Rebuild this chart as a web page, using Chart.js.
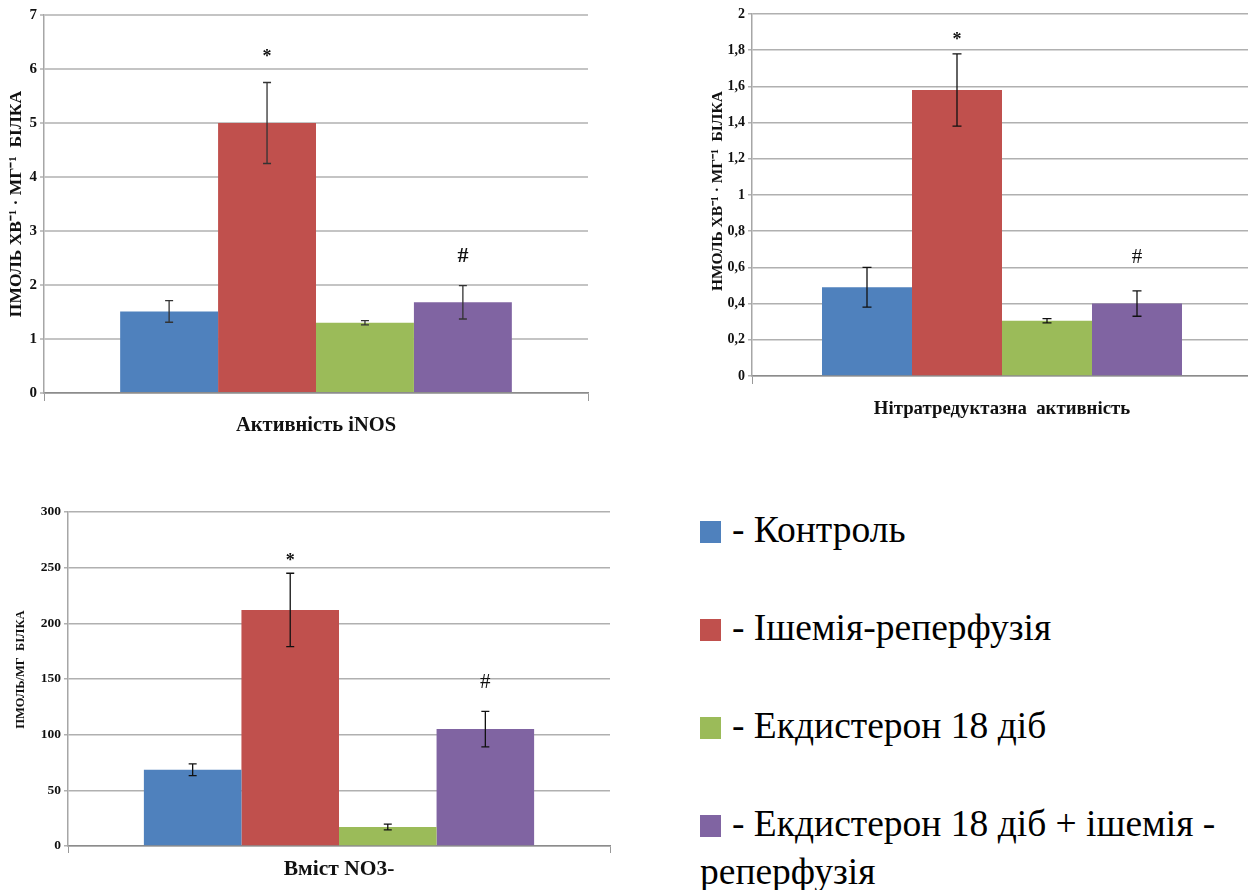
<!DOCTYPE html>
<html>
<head>
<meta charset="utf-8">
<script src="https://cdn.jsdelivr.net/npm/chart.js@4.4.1/dist/chart.umd.min.js"></script>
<style>
  html, body { margin: 0; padding: 0; background: #fff; overflow: hidden; width: 1248px; height: 890px; }
  canvas { position: absolute; }
  .leg { position: absolute; left: 700px; font-family: 'Liberation Serif', 'Times New Roman', serif; font-size: 37.5px; line-height: 48px; color: #000; width: 545px; }
  .sq { display: inline-block; width: 21px; height: 22px; margin-right: 11px; vertical-align: -1px; }
</style>
</head>
<body>
<canvas id="c1" width="600" height="445" style="left:0;top:0"></canvas>
<canvas id="c2" width="570" height="430" style="left:690px;top:0"></canvas>
<canvas id="c3" width="620" height="400" style="left:0;top:490px"></canvas>
<div id="legend"></div>
<script>
// ---------- data ----------
const groups = ['Контроль', 'Ішемія-реперфузія', 'Екдистерон 18 діб', 'Екдистерон 18 діб + ішемія - реперфузія'];
const colors = ['#4F81BD', '#C0504D', '#9BBB59', '#8064A2'];

const inosCategory = ['Активність iNOS'];
const inosValues = [1.51, 5.0, 1.3, 1.68];
const inosErrors = [0.2, 0.75, 0.04, 0.31];
const inosMarks = ['', '*', '', '#'];
const inosMarkAt = [null, 6.28, null, 2.53];
const inosTicks = ['0', '1', '2', '3', '4', '5', '6', '7'];
const inosTitle = 'ПМОЛЬ ХВ⁻¹ · МГ⁻¹  БІЛКА';

const nitCategory = ['Нітратредуктазна  активність'];
const nitValues = [0.49, 1.58, 0.305, 0.40];
const nitErrors = [0.11, 0.2, 0.012, 0.07];
const nitMarks = ['', '*', '', '#'];
const nitMarkAt = [null, 1.87, null, 0.655];
const nitTicks = ['0', '0,2', '0,4', '0,6', '0,8', '1', '1,2', '1,4', '1,6', '1,8', '2'];
const nitTitle = '\u2002НМОЛЬ ХВ⁻¹ · МГ⁻¹  БІЛКА';

const no3Category = ['Вміст NO3-'];
const no3Values = [68.5, 212, 17, 105];
const no3Errors = [5.2, 33, 2.6, 16];
const no3Marks = ['', '*', '', '#'];
const no3MarkAt = [null, 258, null, 147];
const no3Ticks = ['0', '50', '100', '150', '200', '250', '300'];
const no3Title = '\u2002\u2002\u2002ПМОЛЬ/МГ  БІЛКА';

// ---------- helpers ----------
const serif = "'Liberation Serif', 'Times New Roman', serif";

const errorBarPlugin = {
  id: 'errorBars',
  afterDatasetsDraw(chart, args, opts) {
    const ctx = chart.ctx;
    const ys = chart.scales.y;
    chart.data.datasets.forEach((ds, i) => {
      const meta = chart.getDatasetMeta(i);
      meta.data.forEach((bar, j) => {
        const v = ds.data[j], e = ds.errors[j];
        const yt = ys.getPixelForValue(v + e), yb = ys.getPixelForValue(v - e);
        ctx.save();
        ctx.strokeStyle = opts.color;
        ctx.lineWidth = opts.width;
        ctx.beginPath();
        ctx.moveTo(bar.x, yt); ctx.lineTo(bar.x, yb);
        ctx.moveTo(bar.x - opts.cap, yt); ctx.lineTo(bar.x + opts.cap, yt);
        ctx.moveTo(bar.x - opts.cap, yb); ctx.lineTo(bar.x + opts.cap, yb);
        ctx.stroke();
        if (ds.marks && ds.marks[j]) {
          ctx.fillStyle = '#111';
          ctx.font = (ds.marks[j] === '*' ? opts.starFont : opts.hashFont);
          ctx.textAlign = 'center';
          ctx.textBaseline = 'middle';
          const yy = ys.getPixelForValue(ds.markAt[j]) + (ds.marks[j] === '*' ? opts.starShift : 0);
          ctx.fillText(ds.marks[j], bar.x, yy);
        }
        ctx.restore();
      });
    });
  }
};

function makeChart(id, cfg) {
  const datasets = groups.map((g, i) => ({
    label: g,
    data: [cfg.values[i]],
    errors: [cfg.errors[i]],
    marks: [cfg.marks[i]],
    markAt: [cfg.markAt[i]],
    backgroundColor: colors[i],
    borderWidth: 0,
    categoryPercentage: 0.72,
    barPercentage: 1.0
  }));
  return new Chart(document.getElementById(id), {
    type: 'bar',
    data: { labels: cfg.category, datasets },
    plugins: [errorBarPlugin],
    options: {
      responsive: false,
      animation: false,
      devicePixelRatio: 1,
      layout: { padding: cfg.padding },
      plugins: {
        legend: { display: false },
        tooltip: { enabled: false },
        errorBars: cfg.err
      },
      scales: {
        x: {
          grid: { display: true, drawOnChartArea: false, drawTicks: true, tickLength: cfg.xTick, color: '#999', lineWidth: 1 },
          border: { display: true, color: '#8c8c8c', width: 1.5 },
          ticks: { color: '#111', padding: cfg.xPad, font: { family: serif, size: cfg.xFont, weight: 'bold' } },
          afterFit: s => { s.height = cfg.xHeight; }
        },
        y: {
          min: cfg.min, max: cfg.max,
          ticks: {
            stepSize: cfg.step,
            color: '#111',
            padding: 3,
            font: { family: serif, size: cfg.yFont, weight: 'bold' },
            callback: (v, i) => cfg.ticks[i]
          },
          grid: { color: cfg.gridColor, lineWidth: cfg.gridWidth, tickLength: 4 },
          border: { display: true, color: '#a6a6a6', width: 1.5 },
          title: {
            display: true, text: cfg.title, color: '#111',
            font: { family: serif, size: cfg.titleFont, weight: 'bold' },
            padding: { top: cfg.titlePad, bottom: 0 }
          },
          afterFit: s => { s.width = cfg.yWidth; }
        }
      }
    }
  });
}

makeChart('c1', {
  category: inosCategory, values: inosValues, errors: inosErrors, marks: inosMarks, markAt: inosMarkAt,
  ticks: inosTicks, title: inosTitle, min: 0, max: 7, step: 1,
  padding: { left: 0, top: 15, right: 12, bottom: 0 },
  yWidth: 44, xHeight: 52, xTick: 8, xPad: 12, xFont: 20.5, yFont: 15, titleFont: 17.5, titlePad: 6,
  gridColor: '#c4c4c4', gridWidth: 2,
  err: { color: '#333', width: 1.3, cap: 4, starFont: 'bold 18px ' + serif, hashFont: 'bold 22px ' + serif, starShift: 3 }
});

makeChart('c2', {
  category: nitCategory, values: nitValues, errors: nitErrors, marks: nitMarks, markAt: nitMarkAt,
  ticks: nitTicks, title: nitTitle, min: 0, max: 2, step: 0.2,
  padding: { left: 0, top: 14, right: 8, bottom: 0 },
  yWidth: 62, xHeight: 54, xTick: 8, xPad: 14, xFont: 18.8, yFont: 14, titleFont: 15.5, titlePad: 19,
  gridColor: '#b0b0b0', gridWidth: 1.5,
  err: { color: '#111', width: 1.3, cap: 4.5, starFont: 'bold 18px ' + serif, hashFont: '21px ' + serif, starShift: 3 }
});

makeChart('c3', {
  category: no3Category, values: no3Values, errors: no3Errors, marks: no3Marks, markAt: no3MarkAt,
  ticks: no3Ticks, title: no3Title, min: 0, max: 300, step: 50,
  padding: { left: 0, top: 22, right: 10, bottom: 0 },
  yWidth: 68, xHeight: 44, xTick: 7, xPad: 4, xFont: 21.5, yFont: 13.5, titleFont: 12.5, titlePad: 13,
  gridColor: '#b0b0b0', gridWidth: 1.5,
  err: { color: '#111', width: 1.3, cap: 4, starFont: 'bold 18px ' + serif, hashFont: '21px ' + serif, starShift: 3 }
});

// ---------- legend ----------
const legTops = [506, 604, 702, 800];
const leg = document.getElementById('legend');
groups.forEach((g, i) => {
  const d = document.createElement('div');
  d.className = 'leg';
  d.style.top = legTops[i] + 'px';
  const sq = document.createElement('span');
  sq.className = 'sq';
  sq.style.background = colors[i];
  d.appendChild(sq);
  d.appendChild(document.createTextNode('- ' + g));
  leg.appendChild(d);
});
</script>
</body>
</html>
